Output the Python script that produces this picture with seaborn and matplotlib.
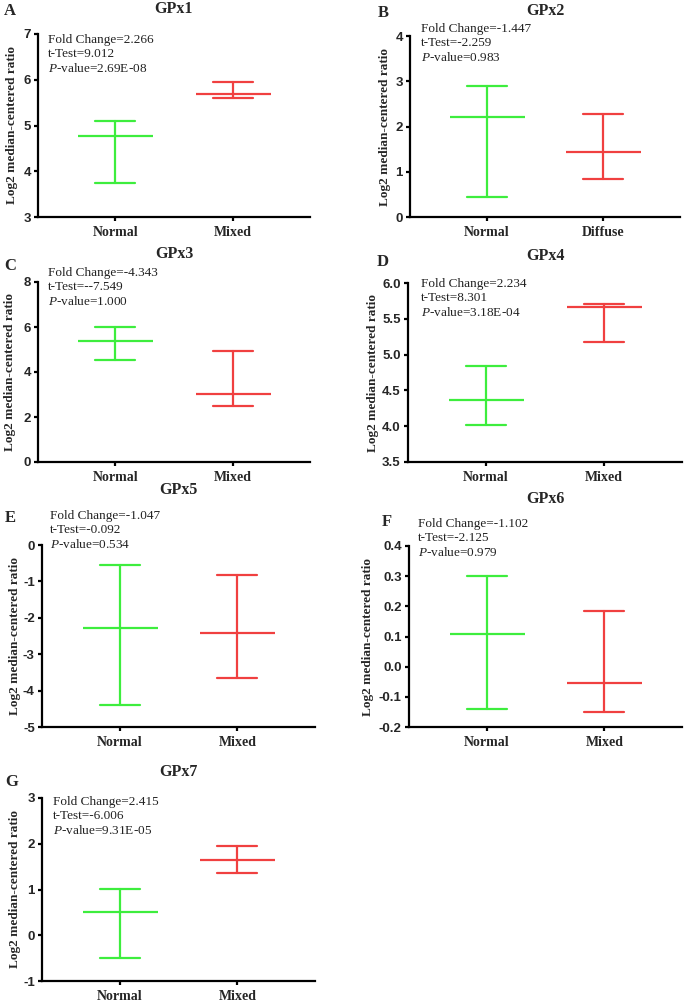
import numpy as np
import pandas as pd
import matplotlib
matplotlib.use("Agg")
import matplotlib.pyplot as plt
import seaborn as sns
from matplotlib.ticker import FormatStrFormatter

genes = ["GPx1", "GPx2", "GPx3", "GPx4", "GPx5", "GPx6", "GPx7"]
letters = ["A", "B", "C", "D", "E", "F", "G"]
tumor_group = ["Mixed", "Diffuse", "Mixed", "Mixed", "Mixed", "Mixed", "Mixed"]

normal_mean = [4.77, 2.21, 5.40, 4.36, -2.27, 0.108, 0.51]
normal_low = [3.75, 0.44, 4.53, 4.01, -4.39, -0.139, -0.50]
normal_high = [5.10, 2.89, 5.99, 4.84, -0.54, 0.300, 1.01]
tumor_mean = [5.68, 1.44, 3.01, 5.66, -2.43, -0.053, 1.65]
tumor_low = [5.61, 0.83, 2.51, 5.18, -3.65, -0.149, 1.37]
tumor_high = [5.96, 2.27, 4.93, 5.71, -0.82, 0.185, 1.96]

fold_change = ["2.266", "-1.447", "-4.343", "2.234", "-1.047", "-1.102", "2.415"]
t_test = ["9.012", "-2.259", "--7.549", "8.301", "-0.092", "-2.125", "-6.006"]
p_value = ["2.69E-08", "0.983", "1.000", "3.18E-04", "0.534", "0.979", "9.31E-05"]

y_ranges = [(3, 7, 1), (0, 4, 1), (0, 8, 2), (3.5, 6.0, 0.5), (-5, 0, 1), (-0.2, 0.4, 0.1), (-1, 3, 1)]

sns.set_theme(style="ticks")
plt.rcParams["font.family"] = ["Liberation Serif", "DejaVu Serif"]
plt.rcParams["mathtext.fontset"] = "custom"
plt.rcParams["mathtext.rm"] = "Liberation Serif"
plt.rcParams["mathtext.it"] = "Liberation Serif:italic"
plt.rcParams["axes.unicode_minus"] = False

W, H = 685, 1002
fig = plt.figure(figsize=(W / 100, H / 100), dpi=100)

# axes boxes in pixels: left, right, top, bottom
boxes = [(38, 310, 34, 217), (410, 680, 36, 217),
         (38, 310, 282, 462), (408, 682, 283, 462),
         (42, 315, 545, 727), (409, 682, 546, 727),
         (42, 315, 798, 981)]
title_y = [9, 11, 254, 256, 490, 499, 772]
letter_pos = [(10, 11), (383, 13), (10, 266), (383, 262), (10, 518), (387, 522), (12, 782)]
ylabel_x = [12, 385, 10, 373, 15, 368, 15]
note_pos = [(48, 34), (421, 23), (48, 267), (421, 278), (50, 510), (418, 518), (53, 796)]

green = "#3ded3d"
red = "#f04040"

for i in range(7):
    l, r, t, b = boxes[i]
    ax = fig.add_axes([l / W, 1 - b / H, (r - l) / W, (b - t) / H])
    groups = ["Normal", tumor_group[i]]
    df = pd.DataFrame({
        "group": [groups[0]] * 3 + [groups[1]] * 3,
        "value": [normal_low[i], normal_mean[i], normal_high[i],
                  tumor_low[i], tumor_mean[i], tumor_high[i]],
    })
    sns.pointplot(data=df, x="group", y="value", hue="group", order=groups,
                  palette=[green, red], estimator="median", errorbar=("pi", 100),
                  capsize=0.34, marker="_", markersize=54, markeredgewidth=1.6,
                  linestyle="none", err_kws={"linewidth": 1.6}, legend=False, ax=ax)
    ax.set_xlim(-0.66, 1.66)
    lo, hi, step = y_ranges[i]
    ax.set_ylim(lo, hi)
    ax.set_yticks(np.arange(lo, hi + step / 2, step))
    if step < 1:
        ax.yaxis.set_major_formatter(FormatStrFormatter("%.1f"))
    sns.despine(ax=ax)
    for s in ["left", "bottom"]:
        ax.spines[s].set_linewidth(1.6)
        ax.spines[s].set_color("black")
    ax.tick_params(axis="both", length=3.2, width=1.6, color="black", pad=2)
    for lab in ax.get_yticklabels():
        lab.set_fontfamily("Liberation Sans")
        lab.set_fontweight("bold")
        lab.set_fontsize(9.5)
    for lab in ax.get_xticklabels():
        lab.set_fontweight("bold")
        lab.set_fontsize(10)
    ax.tick_params(axis="x", pad=3)
    ax.set_xlabel("")
    ax.set_ylabel("Log2 median-centered ratio", fontsize=9.5, fontweight="bold")
    ax.yaxis.label.set_va("center")
    ax.yaxis.set_label_coords((ylabel_x[i] - l) / (r - l), 0.5)

    fig.text(((l + r) / 2) / W, 1 - title_y[i] / H, genes[i], ha="center", va="center",
             fontsize=11.5, fontweight="bold")
    lx, ly = letter_pos[i]
    fig.text(lx / W, 1 - ly / H, letters[i], ha="center", va="center",
             fontsize=12, fontweight="bold")
    nx, ny = note_pos[i]
    note = ("Fold Change=" + fold_change[i] + "\nt-Test=" + t_test[i]
            + "\n$\\it{P}$-value=" + p_value[i])
    fig.text(nx / W, 1 - ny / H, note, ha="left", va="top", fontsize=9.5,
             linespacing=1.2, color="#222222")

fig.savefig("out.png", dpi=100)
